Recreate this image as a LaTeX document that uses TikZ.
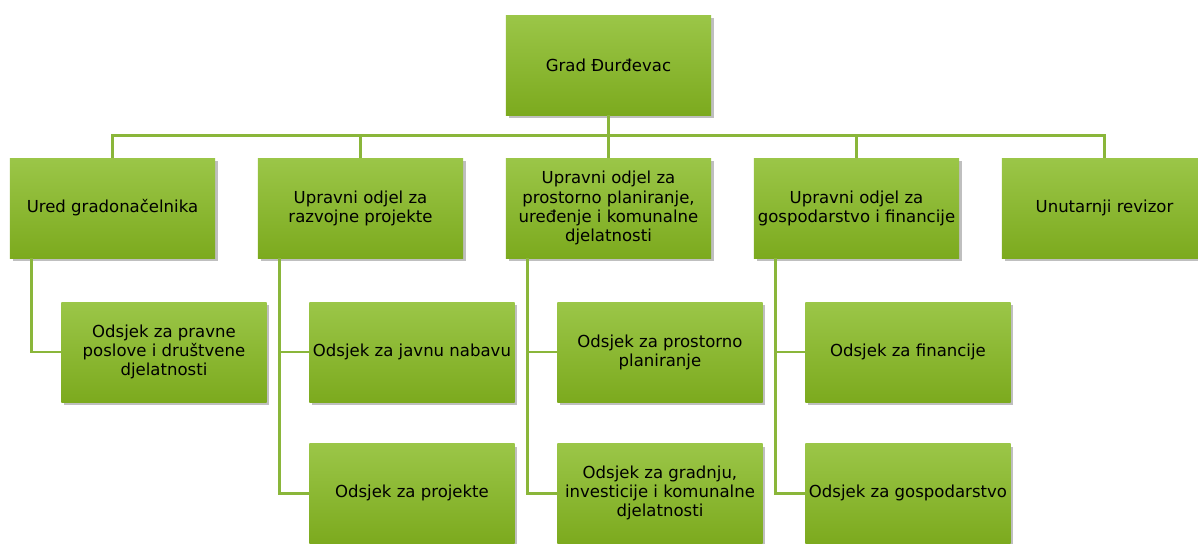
\documentclass[tikz,border=0pt]{standalone}
\usepackage{fontspec}
\setmainfont{DejaVu Sans}
\usetikzlibrary{positioning,shadows}
\definecolor{boxtop}{RGB}{155,198,72}
\definecolor{boxbot}{RGB}{124,170,30}
\definecolor{linkgreen}{RGB}{138,182,58}

\begin{document}
\begin{tikzpicture}[x=0.75pt,y=-0.75pt,on grid,node distance=186pt,
    unit/.style={top color=boxtop,bottom color=boxbot,minimum width=154pt,
      minimum height=75pt,align=center,inner sep=1pt,font=\fontsize{12.4}{14.3}\selectfont,
      drop shadow={shadow xshift=2pt,shadow yshift=-2.5pt,opacity=.25,fill=black}},
    link/.style={draw=linkgreen,line width=2.2pt}]
        \useasboundingbox (0,0) rectangle (1198,543);
        \node[unit] (ured) at (112.5,208) {Ured gradonačelnika};
        \node[unit] (razvoj) [right=of ured] {Upravni odjel za\\razvojne projekte};
        \node[unit] (prostor) [right=of razvoj] {Upravni odjel za\\prostorno planiranje,\\uređenje i komunalne\\djelatnosti};
        \node[unit] (gosp) [right=of prostor] {Upravni odjel za\\gospodarstvo i financije};
        \node[unit] (revizor) [right=of gosp] {Unutarnji revizor};
        \node[unit] (grad) [above=107.25pt of prostor] {Grad Đurđevac};
        % odsjeci
        \node[unit] (pravni) [below right=108pt and 38.6pt of ured] {Odsjek za pravne\\poslove i društvene\\djelatnosti};
        \node[unit] (nabava) [below right=108pt and 38.6pt of razvoj] {Odsjek za javnu nabavu};
        \node[unit] (projekti) [below right=214pt and 38.6pt of razvoj] {Odsjek za projekte};
        \node[unit] (planiranje) [below right=108pt and 38.6pt of prostor] {Odsjek za prostorno\\planiranje};
        \node[unit] (gradnja) [below right=214pt and 38.6pt of prostor] {Odsjek za gradnju,\\investicije i komunalne\\djelatnosti};
        \node[unit] (financije) [below right=108pt and 38.6pt of gosp] {Odsjek za financije};
        \node[unit] (gospodarstvo) [below right=214pt and 38.6pt of gosp] {Odsjek za gospodarstvo};

        \foreach \n in {ured,razvoj,prostor,gosp,revizor}
            \draw[link] (grad.south) -- ++(0,20) -| (\n.north);
        \draw[link] ([xshift=16.5pt]ured.south west) |- (pravni.west);
        \draw[link] ([xshift=16.5pt]razvoj.south west) |- (nabava.west);
        \draw[link] ([xshift=16.5pt]razvoj.south west) |- (projekti.west);
        \draw[link] ([xshift=16.5pt]prostor.south west) |- (planiranje.west);
        \draw[link] ([xshift=16.5pt]prostor.south west) |- (gradnja.west);
        \draw[link] ([xshift=16.5pt]gosp.south west) |- (financije.west);
        \draw[link] ([xshift=16.5pt]gosp.south west) |- (gospodarstvo.west);
\end{tikzpicture}
\end{document}
